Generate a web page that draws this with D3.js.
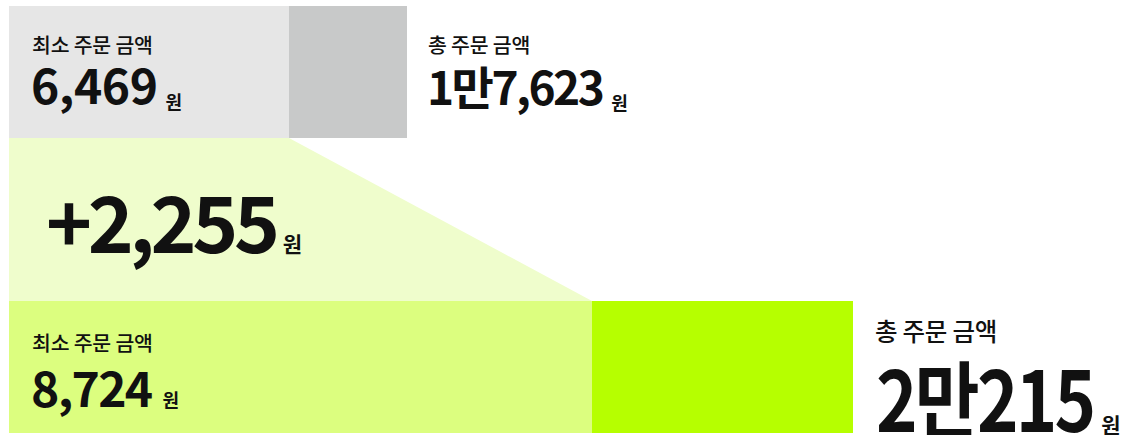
<!DOCTYPE html>
<html>
<head>
<meta charset="utf-8">
<script src="https://cdn.jsdelivr.net/npm/d3@7"></script>
<style>
  body { margin: 0; background: #fff; }
  text { font-family: "Noto Sans CJK KR", "Noto Sans", sans-serif; fill: #111; }
</style>
</head>
<body>
<div id="chart"></div>
<script>
// data
var rows = ["before", "after"];
var minOrder = [6469, 8724];
var totalOrder = [17623, 20215];
var minLabel = "최소 주문 금액";
var totalLabel = "총 주문 금액";
var unit = "원";

var width = 1129, height = 435;

// the bars are a design layout, not to scale: each row gets its own piecewise scale
var barLeft = 9;
var splitX = [289, 592], endX = [407, 853];

var svg = d3.select("#chart")
  .append("svg")
    .attr("width", width)
    .attr("height", height);

var y = d3.scaleBand()
  .domain(rows)
  .range([6, 433])
  .paddingInner(163 / 295);

var x = rows.map(function(r, i) {
  return d3.scaleLinear()
    .domain([0, minOrder[i], totalOrder[i]])
    .range([barLeft, splitX[i], endX[i]]);
});

var fmt = d3.format(",");
function fmtKo(v) {
  var man = Math.floor(v / 10000), rest = v % 10000;
  return (man ? man + "만" : "") + fmt(rest);
}

var minColor = ["#e6e6e6", "#dcfe7f"];
var restColor = ["#c8c9c9", "#b6ff00"];

// connector between the two minimum bars
var yTopEnd = y("before") + y.bandwidth();
var yBotStart = y("after");
svg.append("path")
  .attr("fill", "#effdcc")
  .attr("d", d3.line()([
    [x[0](0), yTopEnd],
    [x[0](minOrder[0]), yTopEnd],
    [x[1](minOrder[1]), yBotStart],
    [x[1](0), yBotStart]
  ]) + "Z");

// bars
rows.forEach(function(r, i) {
  svg.append("rect")
    .attr("x", x[i](0))
    .attr("y", y(r))
    .attr("width", x[i](minOrder[i]) - x[i](0))
    .attr("height", y.bandwidth())
    .attr("fill", minColor[i]);
  svg.append("rect")
    .attr("x", x[i](minOrder[i]))
    .attr("y", y(r))
    .attr("width", x[i](totalOrder[i]) - x[i](minOrder[i]))
    .attr("height", y.bandwidth())
    .attr("fill", restColor[i]);
});

// big number + small 원 unit
function valueText(o) {
  var g = svg.append("g")
    .attr("transform", "translate(" + o.x + "," + o.y + ")");
  var sx = o.sx || 1;
  var num = g.append("text")
    .attr("transform", "scale(" + sx + ",1)")
    .style("font-size", o.size + "px")
    .style("font-weight", 700)
    .style("letter-spacing", o.ls + "em")
    .text(o.text);
  var w = num.node().getComputedTextLength() * sx;
  g.append("text")
    .attr("x", w + o.gap)
    .attr("y", o.dy)
    .style("font-size", o.unitSize + "px")
    .style("font-weight", 700)
    .text(unit);
}

function label(tx, ty, str, size) {
  svg.append("text")
    .attr("x", tx)
    .attr("y", ty)
    .style("font-size", size + "px")
    .style("font-weight", 500)
    .style("letter-spacing", "-0.01em")
    .text(str);
}

// top row
var t0 = y("before");
label(32, t0 + 47, minLabel, 20.5);
valueText({x: 31, y: t0 + 98, text: fmtKo(minOrder[0]), size: 48, ls: -0.01, unitSize: 18, gap: 8, dy: 5});
label(428, t0 + 47, totalLabel, 20.5);
valueText({x: 427, y: t0 + 99, text: fmtKo(totalOrder[0]), size: 46, ls: -0.055, unitSize: 18, gap: 9, dy: 5});

// difference
valueText({x: 46, y: 253, text: "+" + fmt(minOrder[1] - minOrder[0]), size: 78, ls: -0.055, unitSize: 21, gap: 7, dy: -1});

// bottom row
var t1 = y("after");
label(32, t1 + 50, minLabel, 20.5);
valueText({x: 31, y: t1 + 106, text: fmtKo(minOrder[1]), size: 48, ls: -0.035, unitSize: 18, gap: 11, dy: 0});
label(875, t1 + 40, totalLabel, 24.5);
valueText({x: 876, y: t1 + 131, text: fmtKo(totalOrder[1]), size: 84, ls: -0.04, sx: 0.84, unitSize: 21, gap: 8, dy: 1});
</script>
</body>
</html>
